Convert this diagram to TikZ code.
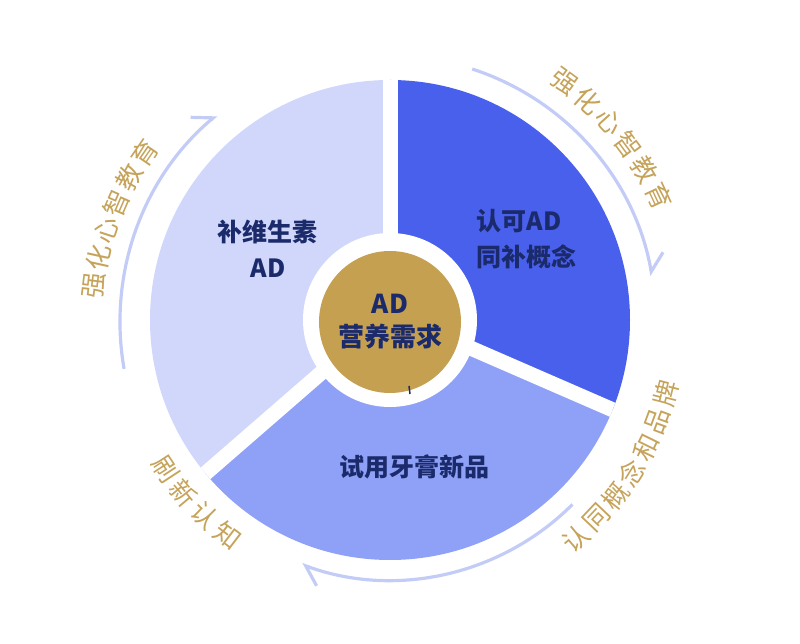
\documentclass[tikz,border=0pt]{standalone}
\usepackage{fontspec}
\newfontfamily\cjk{Noto Sans CJK SC}
\usetikzlibrary{arrows.meta}

\definecolor{seglight}{HTML}{D0D7FB}
\definecolor{segdark}{HTML}{4860EC}
\definecolor{segmid}{HTML}{8FA1F7}
\definecolor{coregold}{HTML}{C4A050}
\definecolor{navy}{HTML}{1B2A6B}
\definecolor{lblgold}{HTML}{C6A35A}
\definecolor{flowblue}{HTML}{C3CCF7}

\tikzset{
  segtext/.style={font=\cjk\bfseries\fontsize{25}{36}\selectfont, text=navy, align=center},
  lbl/.style={font=\cjk\fontsize{26}{26}\selectfont, text=lblgold, inner sep=0pt},
  flow/.style={flowblue, line width=3.2pt,
    -{Straight Barb[harpoon, length=17pt, width=30pt]}},
  gap/.style={white, line width=15pt}
}

\begin{document}
\begin{tikzpicture}[x=1pt, y=1pt]
  \useasboundingbox (-390,-322) rectangle (410,322);

  % the three sectors
  \begin{scope}
    \clip (0,2) circle (240);
    \fill[segdark] (0,9) -- +(90:400) arc[start angle=90, end angle=-23.5, radius=400] -- cycle;
    \fill[seglight] (0,9) -- +(221:400) arc[start angle=221, end angle=90, radius=400] -- cycle;
    \fill[segmid] (0,9) -- +(-23.5:400) arc[start angle=-23.5, end angle=-139, radius=400] -- cycle;
    \draw[gap] (0,9) -- +(90:300);
    \draw[gap] (0,9) -- +(-23.5:300);
    \draw[gap] (0,9) -- +(221:300);
  \end{scope}
  \fill[white] (0,2) circle (87);

  \node[circle, fill=coregold, minimum size=142pt, segtext, font=\cjk\bfseries\fontsize{26}{33}\selectfont] (core) at (0,0) {AD\\营养需求};
  \draw[navy, line width=1.5pt] (19,-64) -- (20,-72);

  \node[segtext] (vit) at (-122,73) {补维生素\\AD};
  \node[segtext, anchor=west, align=left] (accept) at (83,83) {认可AD\\同补概念};
  \node[segtext] (trial) at (25,-145) {试用牙膏新品};

  % flow arcs
  \draw[flow] (72:266) arc[start angle=72, end angle=10, radius=266];
  \draw[flow] (190:270) arc[start angle=190, end angle=130, radius=270];
  \draw[flow] (-45:258) arc[start angle=-45, end angle=-110, radius=258];

  % labels along the ring
  \foreach \ch [count=\i] in {强,化,心,智,教,育}{
    \pgfmathsetmacro\ang{54-5.8*(\i-1)}
    \node[lbl, rotate=\ang-90] (ra\i) at (\ang:297) {\ch};
  }
  \foreach \ch [count=\i] in {强,化,心,智,教,育}{
    \pgfmathsetmacro\ang{173-5.5*(\i-1)}
    \node[lbl, rotate=\ang-90] (la\i) at (\ang:298) {\ch};
  }
  \foreach \ch [count=\i] in {认,同,概,念,和,品,牌}{
    \pgfmathsetmacro\ang{-49.3+5.8*(\i-1)}
    \node[lbl, rotate=\ang+90] (rb\i) at (\ang:285) {\ch};
  }
  \foreach \ch [count=\i] in {刷,新,认,知}{
    \pgfmathsetmacro\ang{213.2+6.5*(\i-1)}
    \node[lbl, rotate=\ang+90] (lb\i) at (\ang:268) {\ch};
  }
\end{tikzpicture}
\end{document}
